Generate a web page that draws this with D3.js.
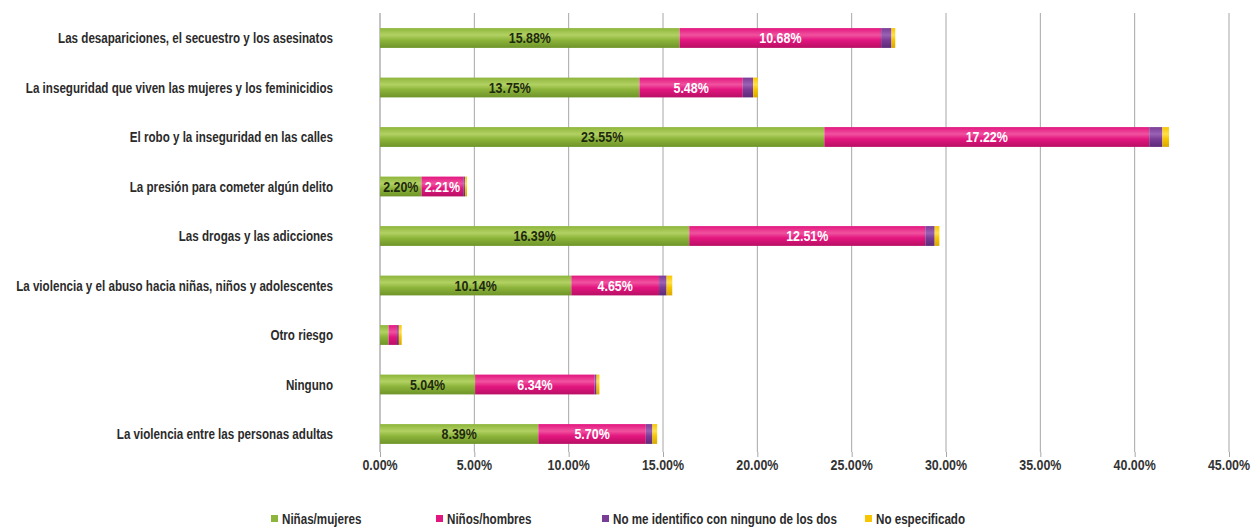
<!DOCTYPE html>
<html>
<head>
<meta charset="utf-8">
<script src="https://cdn.jsdelivr.net/npm/d3@7"></script>
<style>
  body { margin: 0; background: #fff; }
  svg text { font-family: "Liberation Sans", Arial, sans-serif; font-weight: bold; }
</style>
</head>
<body>
<svg id="chart" width="1252" height="529"></svg>
<script>
// categories, top to bottom
var categories = [
    "Las desapariciones, el secuestro y los asesinatos",
    "La inseguridad que viven las mujeres y los feminicidios",
    "El robo y la inseguridad en las calles",
    "La presión para cometer algún delito",
    "Las drogas y las adicciones",
    "La violencia y el abuso hacia niñas, niños y adolescentes",
    "Otro riesgo",
    "Ninguno",
    "La violencia entre las personas adultas"
];

var seriesNames = ["Niñas/mujeres", "Niños/hombres", "No me identifico con ninguno de los dos", "No especificado"];

// percent values per series (same order as categories)
var ninas      = [15.88, 13.75, 23.55, 2.20, 16.39, 10.14, 0.45, 5.04, 8.39];
var ninos      = [10.68,  5.48, 17.22, 2.21, 12.51,  4.65, 0.45, 6.34, 5.70];
var noIdent    = [ 0.55,  0.55,  0.70, 0.10,  0.50,  0.40, 0.10, 0.10, 0.35];
var noEspecif  = [ 0.20,  0.25,  0.35, 0.10,  0.25,  0.30, 0.15, 0.15, 0.25];

var showLabel = [true, true, true, true, true, true, false, true, true];

var xTicks = [0, 5, 10, 15, 20, 25, 30, 35, 40, 45];

var colors = ["#8db53b", "#e3167f", "#7a3d96", "#f7c600"];
var colorsLight = ["#b2d163", "#f0529f", "#9a62b4", "#ffe04a"];
var colorsDark = ["#6e9429", "#b80f64", "#5c2a78", "#d9a800"];

var svg = d3.select("#chart");

var x = d3.scaleLinear().domain([0, 45]).range([380, 1229]);
var y = d3.scaleBand().domain(categories).range([13.25, 458.75]).paddingInner(0.6).paddingOuter(0.3);

// the original uses a condensed face; squeeze a normal one to the same width
var probe = svg.append("text").style("font-size", "14px").text(categories[0]);
var sx = 275 / probe.node().getComputedTextLength();
probe.remove();

function label(g, px, py, anchor, txt, size, fill) {
    return g.append("text")
        .attr("transform", "translate(" + px + "," + py + ") scale(" + sx + ",1)")
        .attr("dy", "0.36em")
        .attr("text-anchor", anchor)
        .attr("fill", fill)
        .style("font-size", size + "px")
        .text(txt);
}

// gradients to mimic the glossy bars
var defs = svg.append("defs");
colors.forEach(function (c, i) {
    var g = defs.append("linearGradient")
        .attr("id", "grad" + i)
        .attr("x1", 0).attr("y1", 0).attr("x2", 0).attr("y2", 1);
    g.append("stop").attr("offset", "0%").attr("stop-color", c);
    g.append("stop").attr("offset", "35%").attr("stop-color", colorsLight[i]);
    g.append("stop").attr("offset", "60%").attr("stop-color", c);
    g.append("stop").attr("offset", "100%").attr("stop-color", colorsDark[i]);
});

// vertical gridlines
svg.append("g")
    .selectAll("line")
    .data(xTicks)
    .enter().append("line")
    .attr("x1", function (d) { return x(d); })
    .attr("x2", function (d) { return x(d); })
    .attr("y1", 13)
    .attr("y2", 452)
    .attr("stroke", function (d) { return d === 0 ? "#888" : "#a6a6a6"; })
    .attr("stroke-width", 1);

// bottom axis (ticks only, labels drawn condensed below)
var xAxis = d3.axisBottom(x)
    .tickValues(xTicks)
    .tickSize(5)
    .tickFormat("");

var axisG = svg.append("g")
    .attr("transform", "translate(0,452)")
    .call(xAxis);
axisG.select(".domain").remove();
axisG.selectAll(".tick line").attr("stroke", "#a6a6a6");

var tickG = svg.append("g");
xTicks.forEach(function (t) {
    label(tickG, x(t), 465, "middle", t.toFixed(2) + "%", 15, "#333");
});

// stacked data
var rows = categories.map(function (c, i) {
    return { cat: c, vals: [ninas[i], ninos[i], noIdent[i], noEspecif[i]], label: showLabel[i] };
});

var bars = svg.append("g");
rows.forEach(function (r) {
    var start = 0;
    r.vals.forEach(function (v, k) {
        bars.append("rect")
            .attr("x", x(start))
            .attr("y", y(r.cat))
            .attr("width", x(start + v) - x(start))
            .attr("height", y.bandwidth())
            .attr("fill", "url(#grad" + k + ")");
        if (r.label && k < 2) {
            label(bars, (x(start) + x(start + v)) / 2, y(r.cat) + y.bandwidth() / 2,
                "middle", v.toFixed(2) + "%", 15, k === 0 ? "#1f2a10" : "#ffffff");
        }
        start += v;
    });
});

// category labels
var catG = svg.append("g");
categories.forEach(function (c) {
    label(catG, 333, y(c) + y.bandwidth() / 2, "end", c, 14, "#2b2b2b");
});

// legend
var legendX = [271, 436, 602, 865];
var legend = svg.append("g");
seriesNames.forEach(function (n, i) {
    legend.append("rect")
        .attr("x", legendX[i])
        .attr("y", 515)
        .attr("width", 7)
        .attr("height", 7)
        .attr("fill", colors[i]);
    label(legend, legendX[i] + 11, 519, "start", n, 14, "#2b2b2b");
});
</script>
</body>
</html>
